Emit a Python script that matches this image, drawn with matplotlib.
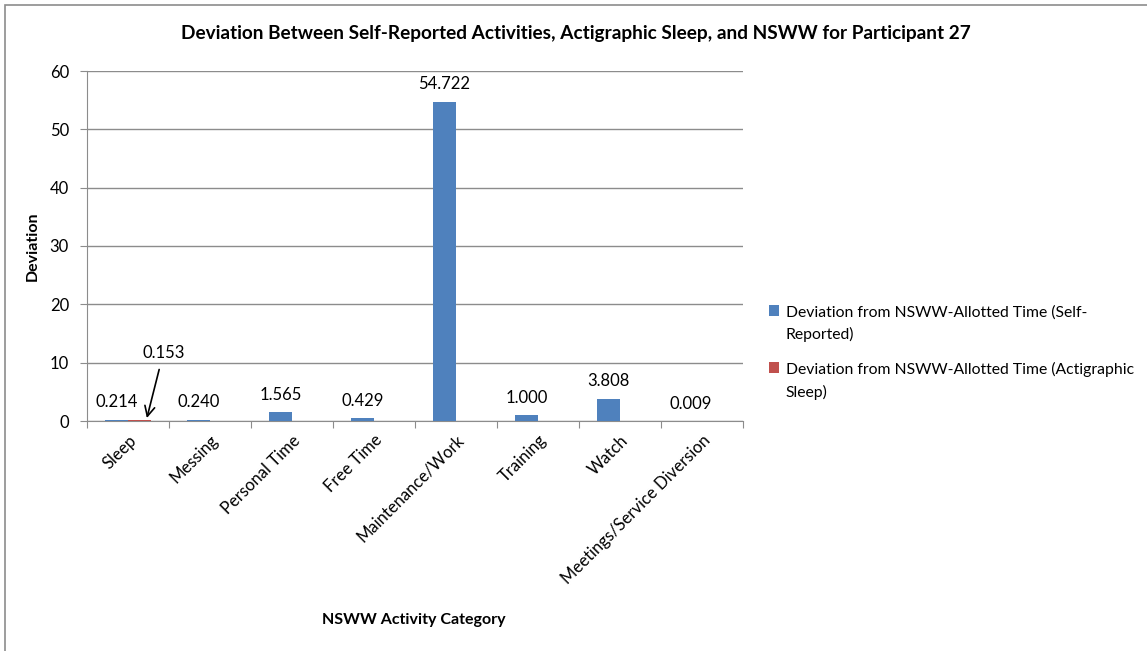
import matplotlib.pyplot as plt
import matplotlib.patches as mpatches
import numpy as np

plt.rcParams['font.family'] = ['Lato', 'DejaVu Sans']

# chart data
categories = ['Sleep', 'Messing', 'Personal Time', 'Free Time', 'Maintenance/Work',
              'Training', 'Watch', 'Meetings/Service Diversion']
self_reported = [0.214, 0.240, 1.565, 0.429, 54.722, 1.000, 3.808, 0.009]
actigraphic = [0.153]
series_names = ['Deviation from NSWW-Allotted Time (Self-\nReported)',
                'Deviation from NSWW-Allotted Time (Actigraphic\nSleep)']
y_ticks = [0, 10, 20, 30, 40, 50, 60]

blue = '#4F81BD'
red = '#C0504D'
grid_col = '#8C8C8C'

fig = plt.figure(figsize=(11.47, 6.51), dpi=100)
W, H = 1147, 651

# outer chart border (cropped at right and bottom)
fig.patches.append(mpatches.Rectangle((5 / W, -0.1), 1.2, 1 - 5 / H + 0.1,
                                      transform=fig.transFigure, fill=False,
                                      edgecolor='#8C8C8C', linewidth=1.2))

ax = fig.add_axes([87 / W, 1 - 421 / H, (743 - 87) / W, (421 - 71) / H])

x = np.arange(len(categories))
bw = 0.28
b1 = ax.bar(x - bw / 2, self_reported, bw, color=blue, label=series_names[0], zorder=3)
b2 = ax.bar(x[:len(actigraphic)] + bw / 2, actigraphic, bw, color=red,
            label=series_names[1], zorder=3)

for xi, v in zip(x, self_reported):
    ax.text(xi - bw / 2, v + 1.6, f'{v:.3f}', ha='center', va='bottom', fontsize=12)

ax.annotate(f'{actigraphic[0]:.3f}', xy=(0.23, 0.5), xytext=(0.43, 11.6),
            ha='center', va='center', fontsize=12,
            arrowprops=dict(arrowstyle='->', color='black', lw=1.2,
                            shrinkA=4, shrinkB=0, mutation_scale=18))

ax.set_xlim(-0.5, len(categories) - 0.5)
ax.set_ylim(0, 60)
ax.set_yticks(y_ticks)
ax.set_yticklabels([str(t) for t in y_ticks], fontsize=12)
ax.yaxis.grid(True, color=grid_col, linewidth=1, zorder=0)
ax.tick_params(axis='y', length=5, color=grid_col, pad=8)

# category boundary ticks on x axis
ax.set_xticks(np.arange(len(categories) + 1) - 0.5)
ax.set_xticklabels([])
ax.tick_params(axis='x', which='major', length=5, color=grid_col)
ax.set_xticks(x, minor=True)
ax.set_xticklabels(categories, minor=True, rotation=45, ha='right',
                   rotation_mode='anchor', fontsize=12)
ax.tick_params(axis='x', which='minor', length=0, pad=8)

for s in ['top', 'right']:
    ax.spines[s].set_visible(False)
ax.spines['left'].set_color(grid_col)
ax.spines['bottom'].set_color(grid_col)

ax.set_ylabel('Deviation', fontsize=11.5, fontweight='bold', labelpad=-2)
ax.yaxis.set_label_coords(-47 / 656, 0.5)
fig.text(414 / W, 1 - 620 / H, 'NSWW Activity Category', ha='center', va='center',
         fontsize=11.5, fontweight='bold')
fig.text(576 / W, 1 - 33 / H,
         'Deviation Between Self-Reported Activities, Actigraphic Sleep, and NSWW for Participant 27',
         ha='center', va='center', fontsize=13.7, fontweight='bold')

leg = fig.legend(handles=[b1, b2], loc='upper left', bbox_to_anchor=(755 / W, 1 - 291 / H),
                 frameon=False, fontsize=11.3, handlelength=0.65, handleheight=0.65,
                 handletextpad=0.4, labelspacing=1.3)
for t in leg.get_texts():
    t.set_linespacing(1.6)
# put the colour squares beside the first text line
for col in leg._legend_handle_box.get_children():
    for item in col.get_children():
        item.align = 'top'

fig.savefig('out.png', dpi=100)
